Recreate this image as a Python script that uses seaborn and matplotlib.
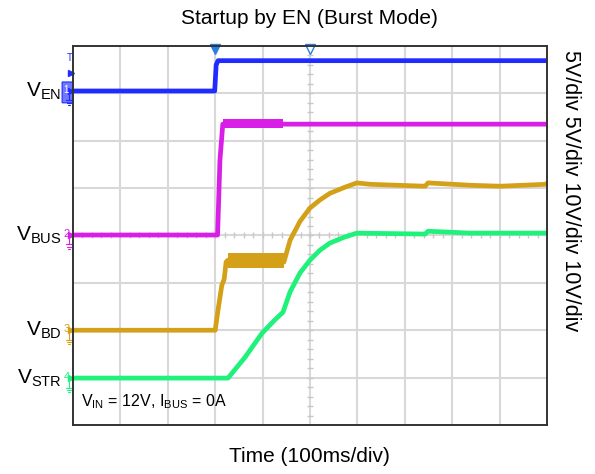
import matplotlib
matplotlib.use("Agg")
import matplotlib.pyplot as plt
import numpy as np
import pandas as pd
import seaborn as sns
from matplotlib.patches import FancyBboxPatch

# scope traces, in divisions (x: 10 div = 1 s, y: 8 div screen)
en_t = [0.0, 2.99, 3.02, 3.06, 10.0]
en_v = [7.05, 7.05, 7.60, 7.69, 7.69]

bus_t = [0.0, 3.05, 3.10, 3.16, 10.0]
bus_v = [4.01, 4.01, 5.59, 6.35, 6.35]
bus_band_t = [3.16, 4.43]
bus_band_lo = [6.27, 6.27]
bus_band_hi = [6.46, 6.46]

bd_t = [0.0, 3.00, 3.06, 3.14, 3.19, 3.23, 3.27, 4.45, 4.58, 4.79, 5.00, 5.21,
        5.42, 5.74, 5.99, 6.27, 7.43, 7.49, 8.38, 9.01, 9.96, 10.0]
bd_v = [2.00, 2.00, 2.43, 2.95, 3.08, 3.44, 3.48, 3.44, 3.90, 4.30, 4.58, 4.75,
        4.89, 5.02, 5.11, 5.08, 5.04, 5.11, 5.06, 5.04, 5.08, 5.10]
bd_band_t = [3.27, 4.45]
bd_band_lo = [3.31, 3.31]
bd_band_hi = [3.63, 3.63]

str_t = [0.0, 3.27, 3.63, 3.99, 4.26, 4.43, 4.58, 4.79, 5.00, 5.21, 5.42, 5.74,
         5.99, 7.43, 7.49, 8.38, 10.0]
str_v = [0.99, 0.99, 1.43, 1.94, 2.22, 2.38, 2.81, 3.21, 3.48, 3.69, 3.84, 3.97,
         4.05, 4.03, 4.09, 4.05, 4.05]

channels = ["EN", "BUS", "BD", "STR"]
channel_nums = ["1", "2", "3", "4"]
colors = {"EN": "#1f2bff", "BUS": "#d91ee8", "BD": "#d4a017", "STR": "#1ef27a"}
labels = ["V$_{\\mathregular{EN}}$", "V$_{\\mathregular{BUS}}$",
          "V$_{\\mathregular{BD}}$", "V$_{\\mathregular{STR}}$"]

traces = pd.concat([
    pd.DataFrame({"t": en_t, "v": en_v, "ch": "EN"}),
    pd.DataFrame({"t": bus_t, "v": bus_v, "ch": "BUS"}),
    pd.DataFrame({"t": bd_t, "v": bd_v, "ch": "BD"}),
    pd.DataFrame({"t": str_t, "v": str_v, "ch": "STR"}),
], ignore_index=True)
zero_levels = {"EN": en_v[0], "BUS": bus_v[0], "BD": bd_v[0], "STR": str_v[0]}

sns.set_theme(style="white")
plt.rcParams["font.family"] = ["Liberation Sans", "DejaVu Sans"]
plt.rcParams["mathtext.fontset"] = "custom"
plt.rcParams["mathtext.rm"] = "Liberation Sans"
plt.rcParams["text.color"] = "black"

fig = plt.figure(figsize=(5.95, 4.74), dpi=100)
ax = fig.add_axes([0.1227, 0.1034, 0.7966, 0.7996])
ax.set_xlim(0, 10)
ax.set_ylim(0, 8)

# graticule
for gx in range(1, 10):
    ax.axvline(gx, color="#d8d8d8", lw=1.5, zorder=0)
for gy in range(1, 8):
    ax.axhline(gy, color="#d8d8d8", lw=1.5, zorder=0)
minor = np.arange(0.2, 10, 0.2)
ax.plot(minor, np.full_like(minor, 4.0), ls="none", marker="|", ms=5,
        color="#c8c8c8", zorder=0)
minor_y = np.arange(0.2, 8, 0.2)
ax.plot(np.full_like(minor_y, 5.0), minor_y, ls="none", marker="_", ms=5,
        color="#c8c8c8", zorder=0)

sns.lineplot(data=traces, x="t", y="v", hue="ch", palette=colors,
             estimator=None, sort=False, lw=3.4, legend=False, ax=ax)
ax.fill_between(bus_band_t, bus_band_lo, bus_band_hi, color=colors["BUS"], lw=0)
ax.fill_between(bd_band_t, bd_band_lo, bd_band_hi, color=colors["BD"], lw=0)

ax.set_xticks([])
ax.set_yticks([])
ax.set_xlabel("")
ax.set_ylabel("")
for side in ax.spines.values():
    side.set_color("#333333")
    side.set_linewidth(1.4)

# channel markers and names
for ch, num, lab in zip(channels, channel_nums, labels):
    lvl = zero_levels[ch]
    ax.text(-0.24, lvl, lab, ha="right", va="center", fontsize=15)
    if ch == "EN":
        ax.add_patch(FancyBboxPatch((-0.22, lvl - 0.24), 0.2, 0.42,
                                    boxstyle="round,pad=0.01", transform=ax.transData,
                                    fc="#6f78ff", ec=colors[ch], lw=0.8,
                                    clip_on=False))
        ax.text(-0.14, lvl + 0.02, num, ha="center", va="center", fontsize=7,
                color="white", clip_on=False)
    else:
        ax.text(-0.14, lvl + 0.02, num, ha="center", va="center", fontsize=8,
                color=colors[ch], clip_on=False)
    ax.plot([-0.04], [lvl], marker=">", ms=4, color=colors[ch], clip_on=False)
    ax.plot([-0.08, -0.08], [lvl, lvl - 0.2], color=colors[ch], lw=0.8, clip_on=False)
    for w, dy in [(0.07, 0.2), (0.045, 0.25), (0.02, 0.3)]:
        ax.plot([-0.08 - w, -0.08 + w], [lvl - dy, lvl - dy], color=colors[ch],
                lw=0.8, clip_on=False)

# trigger markers
ax.text(-0.06, 7.75, "T", ha="center", va="center", fontsize=7, color=colors["EN"])
ax.plot([-0.04], [7.43], marker=">", ms=4, color=colors["EN"], clip_on=False)
ax.plot([3.0], [7.93], marker="v", ms=6.5, color="#2a7fe0", clip_on=False)
ax.plot([5.0], [7.93], marker="v", ms=6.5, mfc="white", mec="#2a7fe0", mew=1,
        clip_on=False)

ax.text(0.16, 0.3, "V$_{\\mathregular{IN}}$ = 12V, I$_{\\mathregular{BUS}}$ = 0A",
        fontsize=11.5, ha="left", va="bottom")

fig.text(0.5204, 0.962, "Startup by EN (Burst Mode)", ha="center", va="center",
         fontsize=15)
fig.text(0.5204, 0.036, "Time (100ms/div)", ha="center", va="center", fontsize=15)
fig.text(0.958, 0.895, "5V/div 5V/div 10V/div 10V/div", ha="center", va="top",
         rotation=-90, fontsize=15.5)

fig.savefig("out.png", dpi=100)
